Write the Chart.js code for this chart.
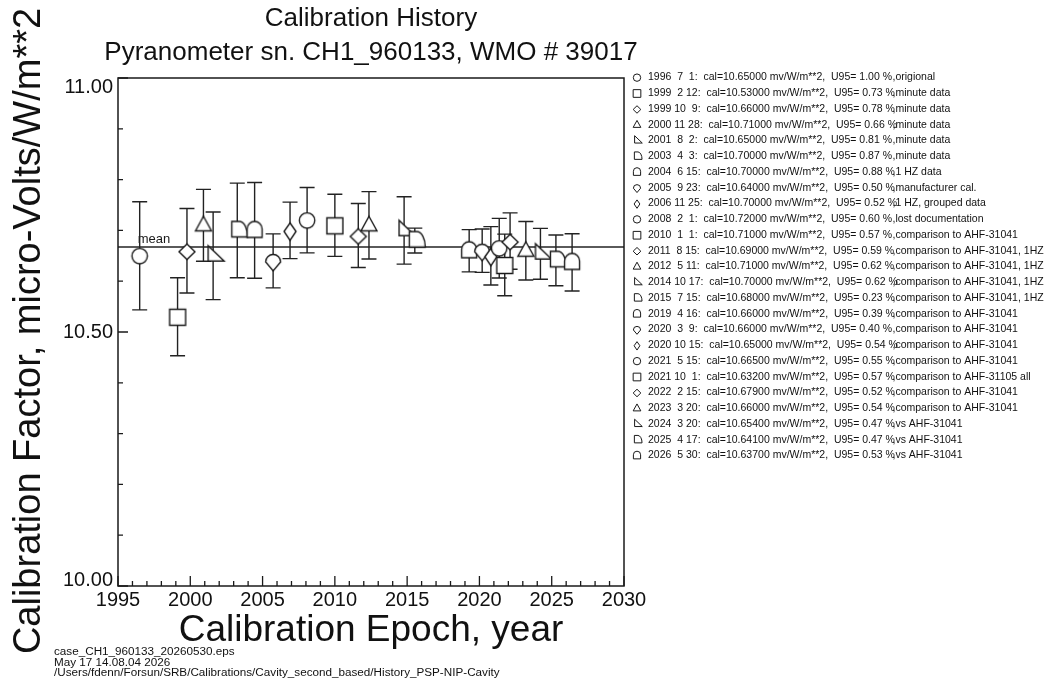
<!DOCTYPE html>
<html><head><meta charset="utf-8">
<script src="https://cdn.jsdelivr.net/npm/chart.js@4.4.1/dist/chart.umd.min.js"></script>
<style>html,body{margin:0;padding:0;background:#fff;overflow:hidden}</style>
</head><body>
<canvas id="c" width="1052" height="681" style="display:block;width:1052px;height:681px"></canvas>
<script>
// ---------- data ----------
const years  = [1996,1999,1999,2000,2001,2003,2004,2005,2006,2008,2010,2011,2012,2014,2015,2019,2020,2020,2021,2021,2022,2023,2024,2025,2026];
const months = [7,2,10,11,8,4,6,9,11,2,1,8,5,10,7,4,3,10,5,10,2,3,3,4,5];
const days   = [1,12,9,28,2,3,15,23,25,1,1,15,11,17,15,16,9,15,15,1,15,20,20,17,30];
const epochs = [1996.50,1999.12,1999.77,2000.91,2001.58,2003.25,2004.45,2005.73,2006.90,2008.08,2010.00,2011.62,2012.36,2014.79,2015.53,2019.29,2020.19,2020.79,2021.37,2021.75,2022.12,2023.21,2024.22,2025.29,2026.41];
const calFactors = [10.65,10.53,10.66,10.71,10.65,10.70,10.70,10.64,10.70,10.72,10.71,10.69,10.71,10.70,10.68,10.66,10.66,10.65,10.665,10.632,10.679,10.66,10.654,10.641,10.637];
const u95 = [1.00,0.73,0.78,0.66,0.81,0.87,0.88,0.50,0.52,0.60,0.57,0.59,0.62,0.62,0.23,0.39,0.40,0.54,0.55,0.57,0.52,0.54,0.47,0.47,0.53];
const notes = ["origional","minute data","minute data","minute data","minute data","minute data","1 HZ data","manufacturer cal.","1 HZ, grouped data","lost documentation","comparison to AHF-31041","comparison to AHF-31041, 1HZ","comparison to AHF-31041, 1HZ","comparison to AHF-31041, 1HZ","comparison to AHF-31041, 1HZ","comparison to AHF-31041","comparison to AHF-31041","comparison to AHF-31041","comparison to AHF-31041","comparison to AHF-31105 all","comparison to AHF-31041","comparison to AHF-31041","vs AHF-31041","vs AHF-31041","vs AHF-31041"];
const xTickValues = [1995,2000,2005,2010,2015,2020,2025,2030];
const xTickLabels = ["1995","2000","2005","2010","2015","2020","2025","2030"];
const yTickValues = [10.0,10.5,11.0];
const yTickLabels = ["10.00","10.50","11.00"];
const titleText = "Calibration History";
const subtitleText = "Pyranometer sn. CH1_960133, WMO # 39017";
const xTitle = "Calibration Epoch, year";
const yTitle = "Calibration Factor, micro-Volts/W/m**2";
const footerLines = ["case_CH1_960133_20260530.eps","May 17 14.08.04 2026","/Users/fdenn/Forsun/SRB/Calibrations/Cavity_second_based/History_PSP-NIP-Cavity"];

// ---------- styling ----------
const FONT = '"Liberation Sans", Arial, Helvetica, sans-serif';
const INK = '#1a1a1a';

function shapePath(ctx, k, s) {
  ctx.beginPath();
  const P = (pts) => { ctx.moveTo(pts[0][0]*s, pts[0][1]*s); for (let i=1;i<pts.length;i++) ctx.lineTo(pts[i][0]*s, pts[i][1]*s); ctx.closePath(); };
  switch (k % 9) {
    case 0: ctx.arc(0, 0.3*s, 7.7*s, 0, Math.PI*2); break;
    case 1: ctx.rect(-8*s, -7.5*s, 16*s, 16*s); break;
    case 2: P([[0,-6.8],[8,1],[0,8.8],[-8,1]]); break;
    case 3: P([[0,-9],[8,5.5],[-8,5.5]]); break;
    case 4: P([[-5,-10],[-5,5.3],[11,5.3]]); break;
    case 5:
      ctx.moveTo(-5.5*s, 6.5*s); ctx.lineTo(-5.5*s, -9*s); ctx.lineTo(2*s, -9*s);
      ctx.ellipse(2*s, 6.5*s, 8.5*s, 15.5*s, 0, -Math.PI/2, 0); ctx.closePath(); break;
    case 6:
      ctx.moveTo(-7.5*s, 7*s); ctx.lineTo(-7.5*s, -1.5*s);
      ctx.arc(0, -1.5*s, 7.5*s, Math.PI, Math.PI*2); ctx.lineTo(7.5*s, 7*s); ctx.closePath(); break;
    case 7:
      ctx.arc(0, 1*s, 7.5*s, Math.PI, Math.PI*2); ctx.lineTo(0, 10*s); ctx.closePath(); break;
    case 8: P([[0,-7.5],[6,1],[0,10],[-6,1]]); break;
  }
}
function markerCanvas(k) {
  const cv = document.createElement('canvas'); cv.width = 34; cv.height = 34;
  const c = cv.getContext('2d'); c.translate(17, 17);
  shapePath(c, k, 1); c.fillStyle = '#fff'; c.fill();
  c.lineWidth = 1.4; c.strokeStyle = INK; c.stroke();
  return cv;
}
const markerStyles = epochs.map((_, i) => markerCanvas(i));
const meanCal = calFactors.reduce((a, b) => a + b, 0) / calFactors.length;

const decor = {
  id: 'decor',
  beforeDraw(chart) {
    const ctx = chart.ctx; ctx.save(); ctx.fillStyle = '#fff'; ctx.fillRect(0, 0, chart.width, chart.height); ctx.restore();
  },
  beforeDatasetsDraw(chart) {
    const ctx = chart.ctx, xs = chart.scales.x, ys = chart.scales.y, a = chart.chartArea;
    ctx.save();
    const my = ys.getPixelForValue(meanCal);
    ctx.strokeStyle = '#5a5a5a'; ctx.lineWidth = 2;
    ctx.beginPath(); ctx.moveTo(a.left, my); ctx.lineTo(a.right, my); ctx.stroke();
    ctx.fillStyle = INK; ctx.font = `13px ${FONT}`; ctx.textAlign = 'left'; ctx.textBaseline = 'alphabetic';
    ctx.fillText('mean', xs.getPixelForValue(epochs[0]) - 2, my - 4);
    ctx.strokeStyle = '#222'; ctx.lineWidth = 1.4;
    epochs.forEach((e, i) => {
      const x = xs.getPixelForValue(e);
      const d = calFactors[i] * u95[i] / 100;
      const y1 = ys.getPixelForValue(calFactors[i] + d), y2 = ys.getPixelForValue(calFactors[i] - d);
      ctx.beginPath();
      ctx.moveTo(x, y1); ctx.lineTo(x, y2);
      ctx.moveTo(x - 7.5, y1); ctx.lineTo(x + 7.5, y1);
      ctx.moveTo(x - 7.5, y2); ctx.lineTo(x + 7.5, y2);
      ctx.stroke();
    });
    ctx.restore();
  },
  afterDraw(chart) {
    const ctx = chart.ctx, xs = chart.scales.x, ys = chart.scales.y, a = chart.chartArea;
    ctx.save();
    ctx.strokeStyle = INK; ctx.lineWidth = 1.5;
    ctx.strokeRect(a.left, a.top, a.right - a.left, a.bottom - a.top);
    ctx.lineWidth = 1.3;
    ctx.beginPath();
    for (let v = 0; v <= 10; v++) {
      const y = ys.getPixelForValue(10 + v / 10);
      const len = (v % 5 === 0) ? 10 : 5;
      ctx.moveTo(a.left, y); ctx.lineTo(a.left + len, y);
    }
    for (let yr = 1995; yr <= 2030; yr++) {
      const x = xs.getPixelForValue(yr);
      const len = (yr % 5 === 0) ? 10 : 5;
      ctx.moveTo(x, a.bottom); ctx.lineTo(x, a.bottom - len);
    }
    ctx.stroke();
    ctx.fillStyle = '#111';
    ctx.font = `20px ${FONT}`;
    ctx.textAlign = 'right'; ctx.textBaseline = 'middle';
    yTickValues.forEach((v, i) => {
      let y = ys.getPixelForValue(v);
      y = Math.min(Math.max(y, a.top + 9), a.bottom - 6);
      ctx.fillText(yTickLabels[i], a.left - 5, y);
    });
    ctx.textAlign = 'center';
    xTickValues.forEach((v, i) => ctx.fillText(xTickLabels[i], xs.getPixelForValue(v), a.bottom + 14));
    const cx = (a.left + a.right) / 2;
    ctx.font = `26px ${FONT}`;
    ctx.fillText(titleText, cx, 19);
    ctx.fillText(subtitleText, cx, 53);
    ctx.font = `37px ${FONT}`;
    ctx.fillText(xTitle, cx, 631);
    ctx.save();
    ctx.font = `38px ${FONT}`;
    ctx.translate(40, 331);
    ctx.rotate(-Math.PI / 2);
    ctx.textBaseline = 'alphabetic';
    ctx.fillText(yTitle, 0, 0);
    ctx.restore();
    ctx.font = `11.7px ${FONT}`; ctx.textAlign = 'left'; ctx.textBaseline = 'middle';
    footerLines.forEach((t, i) => ctx.fillText(t, 54, 652 + i * 10.6));
    ctx.font = `10.5px ${FONT}`;
    const part1 = (i) => String(years[i]).padStart(4,' ') + String(months[i]).padStart(3,' ') + String(days[i]).padStart(3,' ') +
      ':  cal=' + calFactors[i].toFixed(5) + ' mv/W/m**2,  U95=' + u95[i].toFixed(2).padStart(5,' ') + ' %';
    const lx = 648;
    const p2x = lx + Math.min(...epochs.map((_, i) => ctx.measureText(part1(i)).width)) + 0.5;
    epochs.forEach((e, i) => {
      const y = 77.5 + i * 15.75;
      ctx.save(); ctx.translate(637, y); shapePath(ctx, i, 0.48);
      ctx.lineWidth = 1; ctx.strokeStyle = INK; ctx.stroke(); ctx.restore();
      ctx.fillStyle = '#111';
      ctx.fillText(part1(i), lx, y);
      ctx.fillText(',' + notes[i], p2x, y);
    });
    ctx.restore();
  }
};

new Chart(document.getElementById('c'), {
  type: 'scatter',
  data: { datasets: [{
    data: epochs.map((x, i) => ({ x, y: calFactors[i] })),
    pointStyle: markerStyles,
    pointRadius: 8,
    showLine: false
  }]},
  options: {
    responsive: false, animation: false, devicePixelRatio: 1, events: [],
    layout: { padding: { left: 118, right: 1052 - 624, top: 78, bottom: 681 - 586 } },
    plugins: { legend: { display: false }, tooltip: { enabled: false } },
    scales: {
      x: { type: 'linear', min: 1995, max: 2030, display: false },
      y: { type: 'linear', min: 10, max: 11, display: false }
    }
  },
  plugins: [decor]
});
</script>
</body></html>
